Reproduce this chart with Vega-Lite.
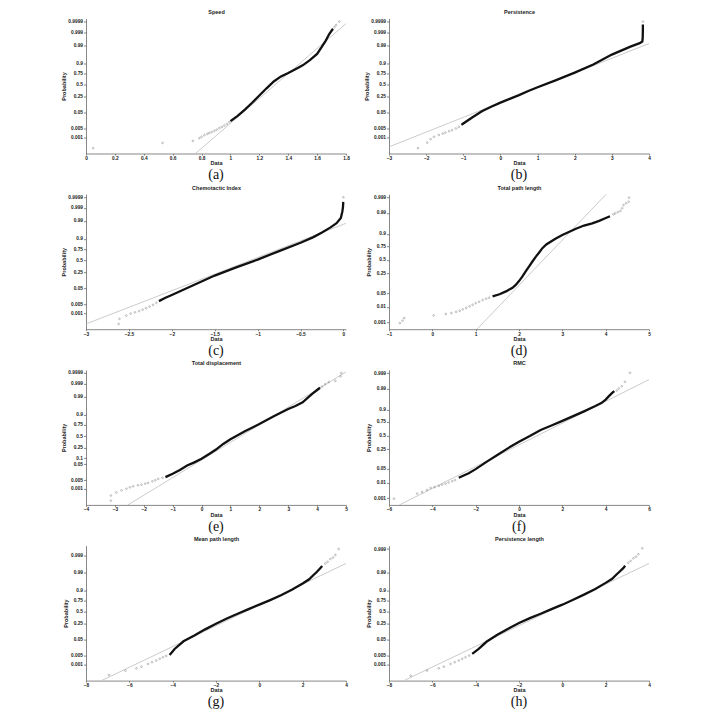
{
"$schema":"https://vega.github.io/schema/vega-lite/v6.json",
"background":"white",
"padding":{"left":61,"top":9.5,"right":5,"bottom":0},
"datasets":{"d":[
{"p":"a","k":"f","x":0.758,"z":-4.03},{"p":"a","k":"f","x":1.8,"z":3.6},
{"p":"a","k":"t","x":0.05,"z":-3.72},{"p":"a","k":"t","x":0.53,"z":-3.41},{"p":"a","k":"t","x":0.74,"z":-3.29},{"p":"a","k":"t","x":0.785,"z":-3.13},{"p":"a","k":"t","x":0.8,"z":-3.05},{"p":"a","k":"t","x":0.82,"z":-2.95},{"p":"a","k":"t","x":0.84,"z":-2.88},{"p":"a","k":"t","x":0.854,"z":-2.82},{"p":"a","k":"t","x":0.87,"z":-2.77},{"p":"a","k":"t","x":0.889,"z":-2.7},{"p":"a","k":"t","x":0.905,"z":-2.63},{"p":"a","k":"t","x":0.923,"z":-2.54},{"p":"a","k":"t","x":0.94,"z":-2.47},{"p":"a","k":"t","x":0.958,"z":-2.39},{"p":"a","k":"t","x":0.975,"z":-2.3},{"p":"a","k":"t","x":0.992,"z":-2.19},{"p":"a","k":"t","x":1.72,"z":3.4},{"p":"a","k":"t","x":1.731,"z":3.52},{"p":"a","k":"t","x":1.754,"z":3.72},
{"p":"a","k":"b","x":1.0,"z":-2.13},{"p":"a","k":"b","x":1.05,"z":-1.82},{"p":"a","k":"b","x":1.1,"z":-1.45},{"p":"a","k":"b","x":1.15,"z":-1.05},{"p":"a","k":"b","x":1.2,"z":-0.62},{"p":"a","k":"b","x":1.25,"z":-0.2},{"p":"a","k":"b","x":1.3,"z":0.2},{"p":"a","k":"b","x":1.35,"z":0.5},{"p":"a","k":"b","x":1.4,"z":0.7},{"p":"a","k":"b","x":1.45,"z":0.92},{"p":"a","k":"b","x":1.5,"z":1.15},{"p":"a","k":"b","x":1.55,"z":1.45},{"p":"a","k":"b","x":1.6,"z":1.82},{"p":"a","k":"b","x":1.63,"z":2.2},{"p":"a","k":"b","x":1.66,"z":2.6},{"p":"a","k":"b","x":1.685,"z":3.0},{"p":"a","k":"b","x":1.71,"z":3.3},

{"p":"b","k":"f","x":-3,"z":-3.64},{"p":"b","k":"f","x":4,"z":2.43},
{"p":"b","k":"t","x":-2.22,"z":-3.72},{"p":"b","k":"t","x":-1.97,"z":-3.39},{"p":"b","k":"t","x":-1.88,"z":-3.19},{"p":"b","k":"t","x":-1.79,"z":-3.05},{"p":"b","k":"t","x":-1.66,"z":-2.94},{"p":"b","k":"t","x":-1.55,"z":-2.86},{"p":"b","k":"t","x":-1.48,"z":-2.8},{"p":"b","k":"t","x":-1.38,"z":-2.72},{"p":"b","k":"t","x":-1.3,"z":-2.66},{"p":"b","k":"t","x":-1.2,"z":-2.56},{"p":"b","k":"t","x":-1.12,"z":-2.47},{"p":"b","k":"t","x":3.835,"z":3.72},
{"p":"b","k":"b","x":-1.05,"z":-2.35},{"p":"b","k":"b","x":-1.0,"z":-2.27},{"p":"b","k":"b","x":-0.75,"z":-1.9},{"p":"b","k":"b","x":-0.5,"z":-1.55},{"p":"b","k":"b","x":-0.25,"z":-1.28},{"p":"b","k":"b","x":0,"z":-1.04},{"p":"b","k":"b","x":0.25,"z":-0.82},{"p":"b","k":"b","x":0.5,"z":-0.6},{"p":"b","k":"b","x":0.75,"z":-0.36},{"p":"b","k":"b","x":1,"z":-0.14},{"p":"b","k":"b","x":1.5,"z":0.28},{"p":"b","k":"b","x":2,"z":0.72},{"p":"b","k":"b","x":2.5,"z":1.2},{"p":"b","k":"b","x":3,"z":1.78},{"p":"b","k":"b","x":3.5,"z":2.25},{"p":"b","k":"b","x":3.75,"z":2.45},{"p":"b","k":"b","x":3.82,"z":2.55},{"p":"b","k":"b","x":3.83,"z":2.75},{"p":"b","k":"b","x":3.835,"z":3.2},{"p":"b","k":"b","x":3.835,"z":3.55},

{"p":"c","k":"f","x":-3,"z":-3.72},{"p":"c","k":"f","x":0.03,"z":2.19},
{"p":"c","k":"t","x":-2.62,"z":-3.72},{"p":"c","k":"t","x":-2.61,"z":-3.42},{"p":"c","k":"t","x":-2.53,"z":-3.23},{"p":"c","k":"t","x":-2.48,"z":-3.11},{"p":"c","k":"t","x":-2.43,"z":-3.04},{"p":"c","k":"t","x":-2.38,"z":-2.97},{"p":"c","k":"t","x":-2.34,"z":-2.88},{"p":"c","k":"t","x":-2.3,"z":-2.8},{"p":"c","k":"t","x":-2.26,"z":-2.7},{"p":"c","k":"t","x":-2.22,"z":-2.6},{"p":"c","k":"t","x":-2.18,"z":-2.48},{"p":"c","k":"t","x":0,"z":3.72},
{"p":"c","k":"b","x":-2.15,"z":-2.38},{"p":"c","k":"b","x":-2.08,"z":-2.2},{"p":"c","k":"b","x":-2.0,"z":-2.02},{"p":"c","k":"b","x":-1.75,"z":-1.45},{"p":"c","k":"b","x":-1.5,"z":-0.88},{"p":"c","k":"b","x":-1.25,"z":-0.4},{"p":"c","k":"b","x":-1.0,"z":0.06},{"p":"c","k":"b","x":-0.75,"z":0.56},{"p":"c","k":"b","x":-0.5,"z":1.05},{"p":"c","k":"b","x":-0.35,"z":1.38},{"p":"c","k":"b","x":-0.25,"z":1.65},{"p":"c","k":"b","x":-0.15,"z":1.95},{"p":"c","k":"b","x":-0.08,"z":2.2},{"p":"c","k":"b","x":-0.03,"z":2.5},{"p":"c","k":"b","x":-0.012,"z":2.9},{"p":"c","k":"b","x":-0.005,"z":3.15},{"p":"c","k":"b","x":-0.002,"z":3.45},

{"p":"d","k":"f","x":1.03,"z":-3.43},{"p":"d","k":"f","x":4.03,"z":3.29},
{"p":"d","k":"t","x":-0.75,"z":-3.13},{"p":"d","k":"t","x":-0.69,"z":-3.01},{"p":"d","k":"t","x":-0.65,"z":-2.88},{"p":"d","k":"t","x":0.03,"z":-2.75},{"p":"d","k":"t","x":0.31,"z":-2.68},{"p":"d","k":"t","x":0.44,"z":-2.63},{"p":"d","k":"t","x":0.55,"z":-2.57},{"p":"d","k":"t","x":0.63,"z":-2.52},{"p":"d","k":"t","x":0.7,"z":-2.45},{"p":"d","k":"t","x":0.78,"z":-2.38},{"p":"d","k":"t","x":0.86,"z":-2.3},{"p":"d","k":"t","x":0.93,"z":-2.22},{"p":"d","k":"t","x":1.0,"z":-2.14},{"p":"d","k":"t","x":1.08,"z":-2.07},{"p":"d","k":"t","x":1.16,"z":-1.99},{"p":"d","k":"t","x":1.24,"z":-1.92},{"p":"d","k":"t","x":1.31,"z":-1.87},{"p":"d","k":"t","x":4.18,"z":2.25},{"p":"d","k":"t","x":4.22,"z":2.3},{"p":"d","k":"t","x":4.28,"z":2.36},{"p":"d","k":"t","x":4.34,"z":2.42},{"p":"d","k":"t","x":4.38,"z":2.55},{"p":"d","k":"t","x":4.41,"z":2.71},{"p":"d","k":"t","x":4.47,"z":2.8},{"p":"d","k":"t","x":4.53,"z":2.88},{"p":"d","k":"t","x":4.54,"z":3.08},
{"p":"d","k":"b","x":1.39,"z":-1.81},{"p":"d","k":"b","x":1.55,"z":-1.7},{"p":"d","k":"b","x":1.7,"z":-1.56},{"p":"d","k":"b","x":1.85,"z":-1.38},{"p":"d","k":"b","x":1.93,"z":-1.23},{"p":"d","k":"b","x":2.0,"z":-1.05},{"p":"d","k":"b","x":2.08,"z":-0.82},{"p":"d","k":"b","x":2.15,"z":-0.58},{"p":"d","k":"b","x":2.23,"z":-0.33},{"p":"d","k":"b","x":2.31,"z":-0.08},{"p":"d","k":"b","x":2.39,"z":0.16},{"p":"d","k":"b","x":2.47,"z":0.38},{"p":"d","k":"b","x":2.54,"z":0.58},{"p":"d","k":"b","x":2.63,"z":0.76},{"p":"d","k":"b","x":2.73,"z":0.9},{"p":"d","k":"b","x":2.85,"z":1.06},{"p":"d","k":"b","x":3.0,"z":1.23},{"p":"d","k":"b","x":3.15,"z":1.38},{"p":"d","k":"b","x":3.3,"z":1.53},{"p":"d","k":"b","x":3.5,"z":1.7},{"p":"d","k":"b","x":3.69,"z":1.81},{"p":"d","k":"b","x":3.85,"z":1.93},{"p":"d","k":"b","x":3.99,"z":2.06},{"p":"d","k":"b","x":4.1,"z":2.16},

{"p":"e","k":"f","x":-2.55,"z":-4.03},{"p":"e","k":"f","x":5,"z":3.78},
{"p":"e","k":"t","x":-3.14,"z":-3.78},{"p":"e","k":"t","x":-3.14,"z":-3.48},{"p":"e","k":"t","x":-2.95,"z":-3.3},{"p":"e","k":"t","x":-2.77,"z":-3.18},{"p":"e","k":"t","x":-2.6,"z":-3.08},{"p":"e","k":"t","x":-2.48,"z":-3.0},{"p":"e","k":"t","x":-2.37,"z":-2.94},{"p":"e","k":"t","x":-2.2,"z":-2.88},{"p":"e","k":"t","x":-2.08,"z":-2.84},{"p":"e","k":"t","x":-1.95,"z":-2.78},{"p":"e","k":"t","x":-1.85,"z":-2.74},{"p":"e","k":"t","x":-1.7,"z":-2.65},{"p":"e","k":"t","x":-1.6,"z":-2.58},{"p":"e","k":"t","x":-1.5,"z":-2.5},{"p":"e","k":"t","x":-1.35,"z":-2.44},{"p":"e","k":"t","x":4.17,"z":2.92},{"p":"e","k":"t","x":4.28,"z":3.06},{"p":"e","k":"t","x":4.4,"z":3.18},{"p":"e","k":"t","x":4.63,"z":3.26},{"p":"e","k":"t","x":4.81,"z":3.52},{"p":"e","k":"t","x":4.84,"z":3.72},
{"p":"e","k":"b","x":-1.25,"z":-2.4},{"p":"e","k":"b","x":-1.0,"z":-2.2},{"p":"e","k":"b","x":-0.75,"z":-1.98},{"p":"e","k":"b","x":-0.5,"z":-1.72},{"p":"e","k":"b","x":-0.25,"z":-1.53},{"p":"e","k":"b","x":0,"z":-1.32},{"p":"e","k":"b","x":0.25,"z":-1.05},{"p":"e","k":"b","x":0.5,"z":-0.78},{"p":"e","k":"b","x":0.75,"z":-0.45},{"p":"e","k":"b","x":1.0,"z":-0.17},{"p":"e","k":"b","x":1.5,"z":0.3},{"p":"e","k":"b","x":2,"z":0.72},{"p":"e","k":"b","x":2.5,"z":1.18},{"p":"e","k":"b","x":3,"z":1.6},{"p":"e","k":"b","x":3.25,"z":1.78},{"p":"e","k":"b","x":3.5,"z":2.0},{"p":"e","k":"b","x":3.7,"z":2.3},{"p":"e","k":"b","x":3.85,"z":2.52},{"p":"e","k":"b","x":4.0,"z":2.72},{"p":"e","k":"b","x":4.1,"z":2.85},

{"p":"f","k":"f","x":-5.52,"z":-3.43},{"p":"f","k":"f","x":6,"z":2.77},
{"p":"f","k":"t","x":-5.77,"z":-3.12},{"p":"f","k":"t","x":-4.7,"z":-2.87},{"p":"f","k":"t","x":-4.47,"z":-2.79},{"p":"f","k":"t","x":-4.25,"z":-2.7},{"p":"f","k":"t","x":-4.08,"z":-2.59},{"p":"f","k":"t","x":-3.9,"z":-2.55},{"p":"f","k":"t","x":-3.7,"z":-2.49},{"p":"f","k":"t","x":-3.55,"z":-2.43},{"p":"f","k":"t","x":-3.39,"z":-2.38},{"p":"f","k":"t","x":-3.25,"z":-2.32},{"p":"f","k":"t","x":-3.08,"z":-2.26},{"p":"f","k":"t","x":-2.95,"z":-2.2},{"p":"f","k":"t","x":4.51,"z":2.23},{"p":"f","k":"t","x":4.6,"z":2.33},{"p":"f","k":"t","x":4.74,"z":2.44},{"p":"f","k":"t","x":4.89,"z":2.66},{"p":"f","k":"t","x":5.12,"z":3.11},
{"p":"f","k":"b","x":-2.78,"z":-2.09},{"p":"f","k":"b","x":-2.5,"z":-1.95},{"p":"f","k":"b","x":-2.32,"z":-1.86},{"p":"f","k":"b","x":-2.0,"z":-1.66},{"p":"f","k":"b","x":-1.5,"z":-1.3},{"p":"f","k":"b","x":-1.0,"z":-0.96},{"p":"f","k":"b","x":-0.5,"z":-0.62},{"p":"f","k":"b","x":0,"z":-0.3},{"p":"f","k":"b","x":0.5,"z":-0.02},{"p":"f","k":"b","x":1,"z":0.28},{"p":"f","k":"b","x":1.5,"z":0.5},{"p":"f","k":"b","x":2,"z":0.73},{"p":"f","k":"b","x":2.5,"z":0.96},{"p":"f","k":"b","x":3,"z":1.2},{"p":"f","k":"b","x":3.5,"z":1.45},{"p":"f","k":"b","x":3.8,"z":1.61},{"p":"f","k":"b","x":4,"z":1.78},{"p":"f","k":"b","x":4.15,"z":1.95},{"p":"f","k":"b","x":4.3,"z":2.11},{"p":"f","k":"b","x":4.4,"z":2.2},

{"p":"g","k":"f","x":-7.28,"z":-4.03},{"p":"g","k":"f","x":4,"z":2.85},
{"p":"g","k":"t","x":-6.94,"z":-3.7},{"p":"g","k":"t","x":-6.18,"z":-3.44},{"p":"g","k":"t","x":-5.67,"z":-3.31},{"p":"g","k":"t","x":-5.44,"z":-3.21},{"p":"g","k":"t","x":-5.14,"z":-3.05},{"p":"g","k":"t","x":-4.95,"z":-2.95},{"p":"g","k":"t","x":-4.76,"z":-2.85},{"p":"g","k":"t","x":-4.6,"z":-2.75},{"p":"g","k":"t","x":-4.45,"z":-2.66},{"p":"g","k":"t","x":-4.3,"z":-2.58},{"p":"g","k":"t","x":3.05,"z":2.85},{"p":"g","k":"t","x":3.15,"z":2.95},{"p":"g","k":"t","x":3.28,"z":3.11},{"p":"g","k":"t","x":3.4,"z":3.2},{"p":"g","k":"t","x":3.51,"z":3.35},{"p":"g","k":"t","x":3.66,"z":3.7},
{"p":"g","k":"b","x":-4.14,"z":-2.52},{"p":"g","k":"b","x":-3.91,"z":-2.17},{"p":"g","k":"b","x":-3.5,"z":-1.72},{"p":"g","k":"b","x":-3,"z":-1.38},{"p":"g","k":"b","x":-2.5,"z":-1.02},{"p":"g","k":"b","x":-2,"z":-0.69},{"p":"g","k":"b","x":-1.5,"z":-0.38},{"p":"g","k":"b","x":-1,"z":-0.1},{"p":"g","k":"b","x":-0.5,"z":0.17},{"p":"g","k":"b","x":0,"z":0.43},{"p":"g","k":"b","x":0.5,"z":0.7},{"p":"g","k":"b","x":1,"z":0.98},{"p":"g","k":"b","x":1.5,"z":1.3},{"p":"g","k":"b","x":2,"z":1.67},{"p":"g","k":"b","x":2.3,"z":1.92},{"p":"g","k":"b","x":2.5,"z":2.17},{"p":"g","k":"b","x":2.65,"z":2.35},{"p":"g","k":"b","x":2.8,"z":2.56},{"p":"g","k":"b","x":2.9,"z":2.7},

{"p":"h","k":"f","x":-7.31,"z":-4.03},{"p":"h","k":"f","x":4,"z":2.85},
{"p":"h","k":"t","x":-7.0,"z":-3.74},{"p":"h","k":"t","x":-6.24,"z":-3.44},{"p":"h","k":"t","x":-5.7,"z":-3.31},{"p":"h","k":"t","x":-5.47,"z":-3.21},{"p":"h","k":"t","x":-5.16,"z":-3.05},{"p":"h","k":"t","x":-4.97,"z":-2.95},{"p":"h","k":"t","x":-4.78,"z":-2.85},{"p":"h","k":"t","x":-4.62,"z":-2.75},{"p":"h","k":"t","x":-4.47,"z":-2.66},{"p":"h","k":"t","x":-4.3,"z":-2.56},{"p":"h","k":"t","x":3.05,"z":2.89},{"p":"h","k":"t","x":3.15,"z":3.0},{"p":"h","k":"t","x":3.28,"z":3.15},{"p":"h","k":"t","x":3.4,"z":3.25},{"p":"h","k":"t","x":3.51,"z":3.39},{"p":"h","k":"t","x":3.69,"z":3.74},
{"p":"h","k":"b","x":-4.16,"z":-2.46},{"p":"h","k":"b","x":-3.86,"z":-2.17},{"p":"h","k":"b","x":-3.5,"z":-1.75},{"p":"h","k":"b","x":-3,"z":-1.34},{"p":"h","k":"b","x":-2.5,"z":-0.98},{"p":"h","k":"b","x":-2,"z":-0.65},{"p":"h","k":"b","x":-1.5,"z":-0.36},{"p":"h","k":"b","x":-1,"z":-0.1},{"p":"h","k":"b","x":-0.5,"z":0.17},{"p":"h","k":"b","x":0,"z":0.43},{"p":"h","k":"b","x":0.5,"z":0.72},{"p":"h","k":"b","x":1,"z":1.02},{"p":"h","k":"b","x":1.5,"z":1.34},{"p":"h","k":"b","x":2,"z":1.71},{"p":"h","k":"b","x":2.3,"z":1.95},{"p":"h","k":"b","x":2.5,"z":2.2},{"p":"h","k":"b","x":2.65,"z":2.38},{"p":"h","k":"b","x":2.8,"z":2.56},{"p":"h","k":"b","x":2.9,"z":2.72}
]},
"data":{"name":"d"},
"columns":2,
"spacing":{"row":2.7,"column":14},
"concat":[
{"width":260,"height":135,"title":{"text":"(a)"},"resolve":{"axis":{"x":"independent","y":"independent"}},"layer":[
 {"transform":[{"filter":"datum.p=='a'&&datum.k=='f'"}],"mark":{"type":"line","color":"#b4b4b4","strokeWidth":0.7,"clip":true},"encoding":{
  "x":{"field":"x","type":"quantitative","scale":{"domain":[0,1.8],"nice":false,"zero":false},"axis":{"title":"Data","values":[0,0.2,0.4,0.6,0.8,1,1.2,1.4,1.6,1.8],"format":"~g"}},
  "y":{"field":"z","type":"quantitative","scale":{"domain":[-4.03,3.9],"nice":false,"zero":false},"axis":{"title":"Probability","values":[-3.0902,-2.5758,-1.6449,-0.6745,0,0.6745,1.2816,2.3263,3.0902,3.719],"labelExpr":"format(cumulativeNormal(datum.value),'.4~f')"}}}},
 {"transform":[{"filter":"datum.p=='a'&&datum.k=='b'"}],"mark":{"type":"line","color":"#111","strokeWidth":2.3,"clip":true},"encoding":{
  "x":{"field":"x","type":"quantitative","axis":{"orient":"top","title":"Speed","labels":false,"ticks":false,"domain":false,"titlePadding":4}},
  "y":{"field":"z","type":"quantitative","axis":null},"order":{"field":"z","type":"quantitative"}}},
 {"transform":[{"filter":"datum.p=='a'&&datum.k=='t'"}],"mark":{"type":"point","shape":"circle","size":3,"color":"#555","strokeWidth":0.5,"clip":true},"encoding":{
  "x":{"field":"x","type":"quantitative","axis":null},"y":{"field":"z","type":"quantitative","axis":null}}}
]},
{"width":260,"height":135,"title":{"text":"(b)"},"resolve":{"axis":{"x":"independent","y":"independent"}},"layer":[
 {"transform":[{"filter":"datum.p=='b'&&datum.k=='f'"}],"mark":{"type":"line","color":"#b4b4b4","strokeWidth":0.7,"clip":true},"encoding":{
  "x":{"field":"x","type":"quantitative","scale":{"domain":[-3,4],"nice":false,"zero":false},"axis":{"title":"Data","values":[-3,-2,-1,0,1,2,3,4],"format":"~g"}},
  "y":{"field":"z","type":"quantitative","scale":{"domain":[-4.03,3.9],"nice":false,"zero":false},"axis":{"title":"Probability","values":[-3.0902,-2.5758,-1.6449,-0.6745,0,0.6745,1.2816,2.3263,3.0902,3.719],"labelExpr":"format(cumulativeNormal(datum.value),'.4~f')"}}}},
 {"transform":[{"filter":"datum.p=='b'&&datum.k=='b'"}],"mark":{"type":"line","color":"#111","strokeWidth":2.3,"clip":true},"encoding":{
  "x":{"field":"x","type":"quantitative","axis":{"orient":"top","title":"Persistence","labels":false,"ticks":false,"domain":false,"titlePadding":4}},
  "y":{"field":"z","type":"quantitative","axis":null},"order":{"field":"z","type":"quantitative"}}},
 {"transform":[{"filter":"datum.p=='b'&&datum.k=='t'"}],"mark":{"type":"point","shape":"circle","size":3,"color":"#555","strokeWidth":0.5,"clip":true},"encoding":{
  "x":{"field":"x","type":"quantitative","axis":null},"y":{"field":"z","type":"quantitative","axis":null}}}
]},
{"width":260,"height":135,"title":{"text":"(c)"},"resolve":{"axis":{"x":"independent","y":"independent"}},"layer":[
 {"transform":[{"filter":"datum.p=='c'&&datum.k=='f'"}],"mark":{"type":"line","color":"#b4b4b4","strokeWidth":0.7,"clip":true},"encoding":{
  "x":{"field":"x","type":"quantitative","scale":{"domain":[-3,0.03],"nice":false,"zero":false},"axis":{"title":"Data","values":[-3,-2.5,-2,-1.5,-1,-0.5,0],"format":"~g"}},
  "y":{"field":"z","type":"quantitative","scale":{"domain":[-4.03,3.9],"nice":false,"zero":false},"axis":{"title":"Probability","values":[-3.0902,-2.5758,-1.6449,-0.6745,0,0.6745,1.2816,2.3263,3.0902,3.719],"labelExpr":"format(cumulativeNormal(datum.value),'.4~f')"}}}},
 {"transform":[{"filter":"datum.p=='c'&&datum.k=='b'"}],"mark":{"type":"line","color":"#111","strokeWidth":2.3,"clip":true},"encoding":{
  "x":{"field":"x","type":"quantitative","axis":{"orient":"top","title":"Chemotactic Index","labels":false,"ticks":false,"domain":false,"titlePadding":4}},
  "y":{"field":"z","type":"quantitative","axis":null},"order":{"field":"z","type":"quantitative"}}},
 {"transform":[{"filter":"datum.p=='c'&&datum.k=='t'"}],"mark":{"type":"point","shape":"circle","size":3,"color":"#555","strokeWidth":0.5,"clip":true},"encoding":{
  "x":{"field":"x","type":"quantitative","axis":null},"y":{"field":"z","type":"quantitative","axis":null}}}
]},
{"width":260,"height":135,"title":{"text":"(d)"},"resolve":{"axis":{"x":"independent","y":"independent"}},"layer":[
 {"transform":[{"filter":"datum.p=='d'&&datum.k=='f'"}],"mark":{"type":"line","color":"#b4b4b4","strokeWidth":0.7,"clip":true},"encoding":{
  "x":{"field":"x","type":"quantitative","scale":{"domain":[-1,5],"nice":false,"zero":false},"axis":{"title":"Data","values":[-1,0,1,2,3,4,5],"format":"~g"}},
  "y":{"field":"z","type":"quantitative","scale":{"domain":[-3.43,3.25],"nice":false,"zero":false},"axis":{"title":"Probability","values":[-3.0902,-2.3263,-1.6449,-0.6745,0,0.6745,1.2816,2.3263,3.0902],"labelExpr":"format(cumulativeNormal(datum.value),'.4~f')"}}}},
 {"transform":[{"filter":"datum.p=='d'&&datum.k=='b'"}],"mark":{"type":"line","color":"#111","strokeWidth":2.3,"clip":true},"encoding":{
  "x":{"field":"x","type":"quantitative","axis":{"orient":"top","title":"Total path length","labels":false,"ticks":false,"domain":false,"titlePadding":4}},
  "y":{"field":"z","type":"quantitative","axis":null},"order":{"field":"z","type":"quantitative"}}},
 {"transform":[{"filter":"datum.p=='d'&&datum.k=='t'"}],"mark":{"type":"point","shape":"circle","size":3,"color":"#555","strokeWidth":0.5,"clip":true},"encoding":{
  "x":{"field":"x","type":"quantitative","axis":null},"y":{"field":"z","type":"quantitative","axis":null}}}
]},
{"width":260,"height":135,"title":{"text":"(e)"},"resolve":{"axis":{"x":"independent","y":"independent"}},"layer":[
 {"transform":[{"filter":"datum.p=='e'&&datum.k=='f'"}],"mark":{"type":"line","color":"#b4b4b4","strokeWidth":0.7,"clip":true},"encoding":{
  "x":{"field":"x","type":"quantitative","scale":{"domain":[-4,5],"nice":false,"zero":false},"axis":{"title":"Data","values":[-4,-3,-2,-1,0,1,2,3,4,5],"format":"~g"}},
  "y":{"field":"z","type":"quantitative","scale":{"domain":[-4.03,3.9],"nice":false,"zero":false},"axis":{"title":"Probability","values":[-3.0902,-2.5758,-1.6449,-1.2816,-0.6745,0,0.6745,1.2816,2.3263,3.0902,3.719],"labelExpr":"format(cumulativeNormal(datum.value),'.4~f')"}}}},
 {"transform":[{"filter":"datum.p=='e'&&datum.k=='b'"}],"mark":{"type":"line","color":"#111","strokeWidth":2.3,"clip":true},"encoding":{
  "x":{"field":"x","type":"quantitative","axis":{"orient":"top","title":"Total displacement","labels":false,"ticks":false,"domain":false,"titlePadding":4}},
  "y":{"field":"z","type":"quantitative","axis":null},"order":{"field":"z","type":"quantitative"}}},
 {"transform":[{"filter":"datum.p=='e'&&datum.k=='t'"}],"mark":{"type":"point","shape":"circle","size":3,"color":"#555","strokeWidth":0.5,"clip":true},"encoding":{
  "x":{"field":"x","type":"quantitative","axis":null},"y":{"field":"z","type":"quantitative","axis":null}}}
]},
{"width":260,"height":135,"title":{"text":"(f)"},"resolve":{"axis":{"x":"independent","y":"independent"}},"layer":[
 {"transform":[{"filter":"datum.p=='f'&&datum.k=='f'"}],"mark":{"type":"line","color":"#b4b4b4","strokeWidth":0.7,"clip":true},"encoding":{
  "x":{"field":"x","type":"quantitative","scale":{"domain":[-6,6],"nice":false,"zero":false},"axis":{"title":"Data","values":[-6,-4,-2,0,2,4,6],"format":"~g"}},
  "y":{"field":"z","type":"quantitative","scale":{"domain":[-3.43,3.25],"nice":false,"zero":false},"axis":{"title":"Probability","values":[-3.0902,-2.3263,-1.6449,-0.6745,0,0.6745,1.2816,2.3263,3.0902],"labelExpr":"format(cumulativeNormal(datum.value),'.4~f')"}}}},
 {"transform":[{"filter":"datum.p=='f'&&datum.k=='b'"}],"mark":{"type":"line","color":"#111","strokeWidth":2.3,"clip":true},"encoding":{
  "x":{"field":"x","type":"quantitative","axis":{"orient":"top","title":"RMC","labels":false,"ticks":false,"domain":false,"titlePadding":4}},
  "y":{"field":"z","type":"quantitative","axis":null},"order":{"field":"z","type":"quantitative"}}},
 {"transform":[{"filter":"datum.p=='f'&&datum.k=='t'"}],"mark":{"type":"point","shape":"circle","size":3,"color":"#555","strokeWidth":0.5,"clip":true},"encoding":{
  "x":{"field":"x","type":"quantitative","axis":null},"y":{"field":"z","type":"quantitative","axis":null}}}
]},
{"width":260,"height":135,"title":{"text":"(g)"},"resolve":{"axis":{"x":"independent","y":"independent"}},"layer":[
 {"transform":[{"filter":"datum.p=='g'&&datum.k=='f'"}],"mark":{"type":"line","color":"#b4b4b4","strokeWidth":0.7,"clip":true},"encoding":{
  "x":{"field":"x","type":"quantitative","scale":{"domain":[-8,4],"nice":false,"zero":false},"axis":{"title":"Data","values":[-8,-6,-4,-2,0,2,4],"format":"~g"}},
  "y":{"field":"z","type":"quantitative","scale":{"domain":[-4.03,3.9],"nice":false,"zero":false},"axis":{"title":"Probability","values":[-3.0902,-2.5758,-1.6449,-0.6745,0,0.6745,1.2816,2.3263,3.29],"labelExpr":"datum.value>3.2?'0.999':format(cumulativeNormal(datum.value),'.4~f')"}}}},
 {"transform":[{"filter":"datum.p=='g'&&datum.k=='b'"}],"mark":{"type":"line","color":"#111","strokeWidth":2.3,"clip":true},"encoding":{
  "x":{"field":"x","type":"quantitative","axis":{"orient":"top","title":"Mean path length","labels":false,"ticks":false,"domain":false,"titlePadding":4}},
  "y":{"field":"z","type":"quantitative","axis":null},"order":{"field":"z","type":"quantitative"}}},
 {"transform":[{"filter":"datum.p=='g'&&datum.k=='t'"}],"mark":{"type":"point","shape":"circle","size":3,"color":"#555","strokeWidth":0.5,"clip":true},"encoding":{
  "x":{"field":"x","type":"quantitative","axis":null},"y":{"field":"z","type":"quantitative","axis":null}}}
]},
{"width":260,"height":135,"title":{"text":"(h)"},"resolve":{"axis":{"x":"independent","y":"independent"}},"layer":[
 {"transform":[{"filter":"datum.p=='h'&&datum.k=='f'"}],"mark":{"type":"line","color":"#b4b4b4","strokeWidth":0.7,"clip":true},"encoding":{
  "x":{"field":"x","type":"quantitative","scale":{"domain":[-8,4],"nice":false,"zero":false},"axis":{"title":"Data","values":[-8,-6,-4,-2,0,2,4],"format":"~g"}},
  "y":{"field":"z","type":"quantitative","scale":{"domain":[-4.03,3.9],"nice":false,"zero":false},"axis":{"title":"Probability","values":[-3.0902,-2.5758,-1.6449,-0.6745,0,0.6745,1.2816,2.3263,3.7],"labelExpr":"datum.value>3.2?'0.999':format(cumulativeNormal(datum.value),'.4~f')"}}}},
 {"transform":[{"filter":"datum.p=='h'&&datum.k=='b'"}],"mark":{"type":"line","color":"#111","strokeWidth":2.3,"clip":true},"encoding":{
  "x":{"field":"x","type":"quantitative","axis":{"orient":"top","title":"Persistence length","labels":false,"ticks":false,"domain":false,"titlePadding":4}},
  "y":{"field":"z","type":"quantitative","axis":null},"order":{"field":"z","type":"quantitative"}}},
 {"transform":[{"filter":"datum.p=='h'&&datum.k=='t'"}],"mark":{"type":"point","shape":"circle","size":3,"color":"#555","strokeWidth":0.5,"clip":true},"encoding":{
  "x":{"field":"x","type":"quantitative","axis":null},"y":{"field":"z","type":"quantitative","axis":null}}}
]}
],
"config":{
 "view":{"stroke":null},
 "axis":{"grid":false,"labelFont":"Liberation Sans","labelFontSize":4.8,"labelFontWeight":"bold","labelColor":"#222","titleFont":"Liberation Sans","titleFontSize":5.5,"titleFontWeight":"bold","titleColor":"#222","domainColor":"#555","tickColor":"#555","domainWidth":0.7,"tickWidth":0.7,"tickSize":1.5,"labelPadding":0.5,"titlePadding":0.5,"labelFlush":false,"labelOverlap":false},
 "axisY":{"tickSize":2.5,"labelPadding":1,"titlePadding":1.5},
 "title":{"orient":"bottom","font":"Liberation Serif","fontSize":14,"fontWeight":"normal","color":"#111","offset":2,"frame":"group","anchor":"middle"}
}
}
